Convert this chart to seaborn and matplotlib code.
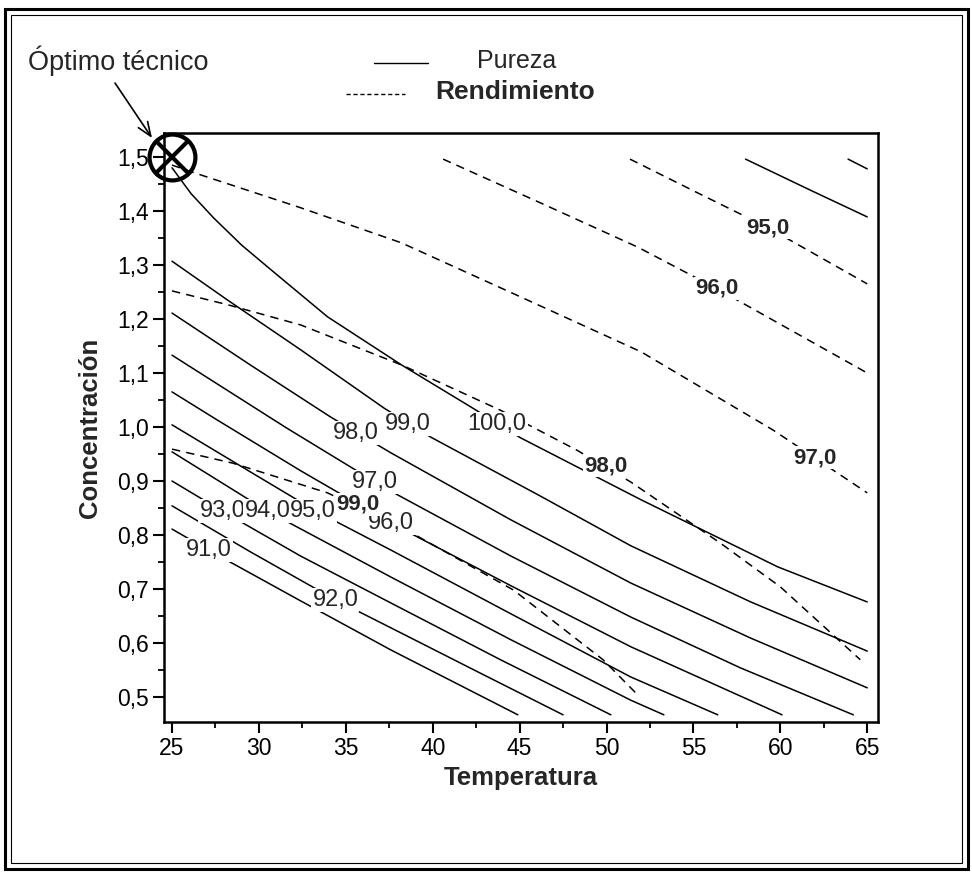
import numpy as np
import pandas as pd
import matplotlib
matplotlib.use("Agg")
import matplotlib.pyplot as plt
from matplotlib.lines import Line2D
from matplotlib.patches import Rectangle
import seaborn as sns

# ---------------- data ----------------
# Pureza contours (solid): Temperatura values and Concentración values
p91_T = [25.0, 27.1, 32.4, 37.6, 44.9]
p91_C = [0.811, 0.772, 0.678, 0.587, 0.467]
p92_T = [25.0, 29.5, 34.4, 37.6, 42.75, 47.5]
p92_C = [0.854, 0.769, 0.680, 0.628, 0.544, 0.467]
p93_T = [25.0, 27.9, 32.4, 37.6, 43.9, 50.25]
p93_C = [0.900, 0.844, 0.761, 0.674, 0.569, 0.467]
p94_T = [25.0, 30.5, 37.6, 44.5, 51.4, 53.3]
p94_C = [0.954, 0.844, 0.722, 0.606, 0.494, 0.467]
p95_T = [25.0, 29.5, 33.3, 37.6, 44.5, 51.4, 56.4]
p95_C = [1.004, 0.917, 0.844, 0.772, 0.654, 0.537, 0.467]
p96_T = [25.0, 27.6, 32.4, 37.6, 44.5, 51.4, 60.1]
p96_C = [1.065, 1.013, 0.919, 0.822, 0.706, 0.593, 0.467]
p97_T = [25.0, 31.6, 36.7, 38.0, 44.5, 51.4, 57.7, 64.2]
p97_C = [1.133, 0.998, 0.898, 0.874, 0.761, 0.648, 0.554, 0.467]
p98_T = [25.0, 29.5, 34.1, 37.6, 44.5, 51.4, 58.3, 65.0]
p98_C = [1.211, 1.115, 1.019, 0.952, 0.828, 0.711, 0.609, 0.517]
p99_T = [25.0, 28.2, 32.4, 37.2, 39.9, 46.2, 51.4, 58.3, 65.0]
p99_C = [1.307, 1.235, 1.143, 1.035, 0.981, 0.872, 0.780, 0.676, 0.585]
p100_T = [25.0, 26.1, 27.4, 29.0, 30.7, 33.95, 38.2, 42.2, 45.05, 52.0, 59.85, 65.0]
p100_C = [1.480, 1.432, 1.387, 1.337, 1.291, 1.204, 1.115, 1.037, 0.980, 0.865, 0.741, 0.676]
pA_T = [58.0, 61.7, 65.0]
pA_C = [1.496, 1.439, 1.389]
pB_T = [63.9, 65.0]
pB_C = [1.496, 1.478]

# Rendimiento contours (dashed)
r95_T = [51.35, 55.4, 59.3, 65.0]
r95_C = [1.496, 1.431, 1.369, 1.265]
r96_T = [40.6, 46.2, 51.8, 56.3, 65.0]
r96_C = [1.496, 1.415, 1.333, 1.257, 1.100]
r97_T = [25.0, 26.35, 32.4, 38.2, 45.05, 52.0, 59.6, 65.0]
r97_C = [1.485, 1.470, 1.406, 1.341, 1.241, 1.139, 0.994, 0.878]
r98_T = [25.0, 28.25, 32.4, 38.2, 43.9, 48.3, 51.4, 56.55, 60.0, 64.6]
r98_C = [1.252, 1.226, 1.189, 1.115, 1.031, 0.957, 0.898, 0.785, 0.704, 0.569]
r99_T = [25.0, 28.5, 33.95, 39.0, 44.65, 49.8, 51.7]
r99_C = [0.959, 0.933, 0.878, 0.800, 0.698, 0.569, 0.507]

# contour labels
pur_labels = ["91,0", "92,0", "93,0", "94,0", "95,0", "96,0", "97,0", "98,0", "99,0", "100,0"]
pur_lab_T = [27.1, 34.4, 27.9, 30.5, 33.1, 37.6, 36.7, 35.55, 38.55, 43.7]
pur_lab_C = [0.772, 0.680, 0.844, 0.844, 0.844, 0.822, 0.898, 0.989, 1.006, 1.006]
ren_labels = ["95,0", "96,0", "97,0", "98,0", "99,0"]
ren_lab_T = [59.26, 56.33, 62.0, 49.94, 35.7]
ren_lab_C = [1.369, 1.257, 0.943, 0.928, 0.857]

opt_T = [25.0]
opt_C = [1.5]

x_ticks = [25, 30, 35, 40, 45, 50, 55, 60, 65]
y_ticks = [0.5, 0.6, 0.7, 0.8, 0.9, 1.0, 1.1, 1.2, 1.3, 1.4, 1.5]
y_tick_labels = ["0,5", "0,6", "0,7", "0,8", "0,9", "1,0", "1,1", "1,2", "1,3", "1,4", "1,5"]

# ---------------- figure ----------------
sns.set_style("ticks")
plt.rcParams['font.family'] = ['Liberation Sans', 'DejaVu Sans']

W, H = 972, 875
fig = plt.figure(figsize=(W / 100, H / 100), dpi=100)
ax = fig.add_axes([164 / W, 1 - 722 / H, 714 / W, 589 / H])

pureza = [(p91_T, p91_C), (p92_T, p92_C), (p93_T, p93_C), (p94_T, p94_C),
          (p95_T, p95_C), (p96_T, p96_C), (p97_T, p97_C), (p98_T, p98_C),
          (p99_T, p99_C), (p100_T, p100_C), (pA_T, pA_C), (pB_T, pB_C)]
rendim = [(r95_T, r95_C), (r96_T, r96_C), (r97_T, r97_C), (r98_T, r98_C), (r99_T, r99_C)]

for T, C in pureza:
    df = pd.DataFrame({"Temperatura": T, "Concentración": C})
    sns.lineplot(data=df, x="Temperatura", y="Concentración", ax=ax, color="k",
                 lw=1.1, estimator=None, sort=False, zorder=2)
for T, C in rendim:
    df = pd.DataFrame({"Temperatura": T, "Concentración": C})
    sns.lineplot(data=df, x="Temperatura", y="Concentración", ax=ax, color="k",
                 lw=1.1, linestyle=(0, (5.5, 4)), estimator=None, sort=False, zorder=2)

box = dict(boxstyle="square,pad=0.05", fc="white", ec="none")
for s, t, c in zip(pur_labels, pur_lab_T, pur_lab_C):
    ax.text(t, c, s, ha="center", va="center", fontsize=17, bbox=box, zorder=4)
for s, t, c in zip(ren_labels, ren_lab_T, ren_lab_C):
    ax.text(t, c, s, ha="center", va="center", fontsize=16, fontweight="bold",
            bbox=box, zorder=4)

# optimum marker
ax.plot(opt_T, opt_C, marker="o", ms=33, mfc="none", mec="k", mew=3,
        ls="none", clip_on=False, zorder=6)
ax.plot(opt_T, opt_C, marker="x", ms=23, mec="k", mew=3,
        ls="none", clip_on=False, zorder=6)

ax.set_xlim(24.54, 65.62)
ax.set_ylim(0.4537, 1.5444)
ax.set_xticks(x_ticks)
ax.set_xticklabels([str(v) for v in x_ticks])
ax.set_xticks(np.arange(27.5, 65, 5), minor=True)
ax.set_yticks(y_ticks)
ax.set_yticklabels(y_tick_labels)
ax.set_yticks(np.arange(0.55, 1.5, 0.1), minor=True)
ax.tick_params(which="major", direction="out", length=8, width=1.5,
               labelsize=16.5, pad=3, color="k", labelcolor="k")
ax.tick_params(which="minor", direction="out", length=4, width=1.3, color="k")
for sp in ax.spines.values():
    sp.set_linewidth(1.8)
    sp.set_color("k")
    sp.set_visible(True)

ax.set_xlabel("Temperatura", fontsize=18.5, fontweight="bold", labelpad=4)
ax.set_ylabel("Concentración", fontsize=18.5, fontweight="bold", labelpad=11)

# annotation
fig.text(28 / W, 1 - 61 / H, "Óptimo técnico", fontsize=19.5, va="center", ha="left")
ax.annotate("", xy=(152, H - 138), xycoords="figure pixels",
            xytext=(115, H - 83), textcoords="figure pixels",
            arrowprops=dict(arrowstyle="->,head_length=0.5,head_width=0.2",
                            lw=1.2, color="k", shrinkA=0, shrinkB=0,
                            mutation_scale=20))

# legend
fig.add_artist(Line2D([374 / W, 428 / W], [1 - 63 / H] * 2, transform=fig.transFigure,
                      color="k", lw=1.0))
fig.text(477 / W, 1 - 61 / H, "Pureza", fontsize=18, va="center", ha="left")
fig.add_artist(Line2D([346 / W, 405 / W], [1 - 94 / H] * 2, transform=fig.transFigure,
                      color="k", lw=1.0, linestyle=(0, (3, 2))))
fig.text(435 / W, 1 - 92 / H, "Rendimiento", fontsize=19, fontweight="bold",
         va="center", ha="left")

# double border
fig.add_artist(Rectangle((5 / W, 1 - 869 / H), 963 / W, 860 / H, transform=fig.transFigure,
                         fill=False, ec="k", lw=2.2))
fig.add_artist(Rectangle((11 / W, 1 - 863 / H), 951 / W, 848 / H, transform=fig.transFigure,
                         fill=False, ec="k", lw=0.8))

fig.savefig("out.png", dpi=100)
